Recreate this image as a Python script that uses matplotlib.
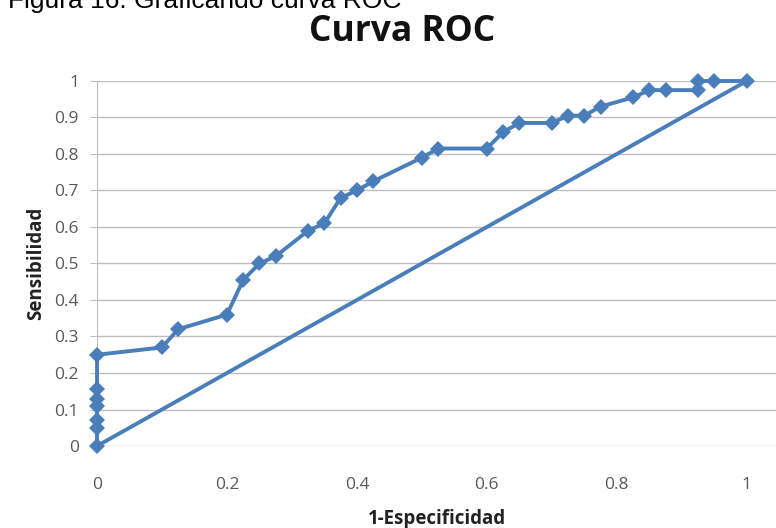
import matplotlib
matplotlib.use("Agg")
import matplotlib.pyplot as plt

# ── datos de la curva ROC ──
fpr = [0, 0, 0, 0, 0, 0, 0, 0.1, 0.125, 0.2, 0.225, 0.25, 0.275, 0.325, 0.35,
       0.375, 0.4, 0.425, 0.5, 0.525, 0.6, 0.625, 0.65, 0.7, 0.725, 0.75,
       0.775, 0.825, 0.85, 0.875, 0.925, 0.925, 0.95, 1.0]
tpr = [0, 0.05, 0.07, 0.11, 0.13, 0.155, 0.25, 0.27, 0.32, 0.36, 0.455, 0.5,
       0.52, 0.59, 0.61, 0.68, 0.70, 0.725, 0.79, 0.815, 0.815, 0.86, 0.885,
       0.885, 0.905, 0.905, 0.93, 0.955, 0.975, 0.975, 0.975, 1.0, 1.0, 1.0]
diag_x = [0, 1]
diag_y = [0, 1]
xticks = [0, 0.2, 0.4, 0.6, 0.8, 1]
xtick_labels = ["0", "0.2", "0.4", "0.6", "0.8", "1"]
yticks = [0, 0.1, 0.2, 0.3, 0.4, 0.5, 0.6, 0.7, 0.8, 0.9, 1]
ytick_labels = ["0", "0.1", "0.2", "0.3", "0.4", "0.5", "0.6", "0.7", "0.8", "0.9", "1"]

plt.rcParams["font.family"] = ["Open Sans", "DejaVu Sans"]

BLUE = "#4A7EBB"
GREY_TXT = "#595959"

fig = plt.figure(figsize=(7.76, 5.28), dpi=100)
ax = fig.add_axes([0.125, 0.1553, 0.875, 0.6913])

ax.plot(diag_x, diag_y, color=BLUE, linewidth=2.8, solid_capstyle="round", zorder=2)
ax.plot(fpr, tpr, color=BLUE, linewidth=2.8, marker="D", markersize=8.5,
        markeredgewidth=0, zorder=3, clip_on=False)

ax.set_xlim(0, 1.045)
ax.set_ylim(0, 1)
ax.set_xticks(xticks)
ax.set_xticklabels(xtick_labels)
ax.set_yticks(yticks)
ax.set_yticklabels(ytick_labels)
ax.tick_params(axis="both", labelsize=12.5, colors=GREY_TXT)
ax.tick_params(axis="x", length=0, pad=22)
ax.tick_params(axis="y", length=5, width=0.8, color="#BFBFBF", pad=8)

ax.grid(axis="y", color="#BFBFBF", linewidth=1.0)
ax.set_axisbelow(True)
for s in ["top", "right", "bottom"]:
    ax.spines[s].set_visible(False)
ax.spines["left"].set_color("#BFBFBF")
ax.spines["left"].set_linewidth(0.8)

ax.set_xlabel("1-Especificidad", fontsize=13.5, fontweight="bold", color="#222222", labelpad=12)
ax.set_ylabel("Sensibilidad", fontsize=13.5, fontweight="bold", color="#222222", labelpad=6)

fig.text(0.518, 0.94, "Curva ROC", fontsize=25.5, fontweight="bold", ha="center", va="center",
         color="#111111")
fig.text(0.01, 0.985, "Figura 16: Graficando curva ROC", fontsize=19, ha="left",
         va="baseline", family=["Liberation Sans", "DejaVu Sans"], color="#000000")

fig.savefig("out.png", dpi=100)
